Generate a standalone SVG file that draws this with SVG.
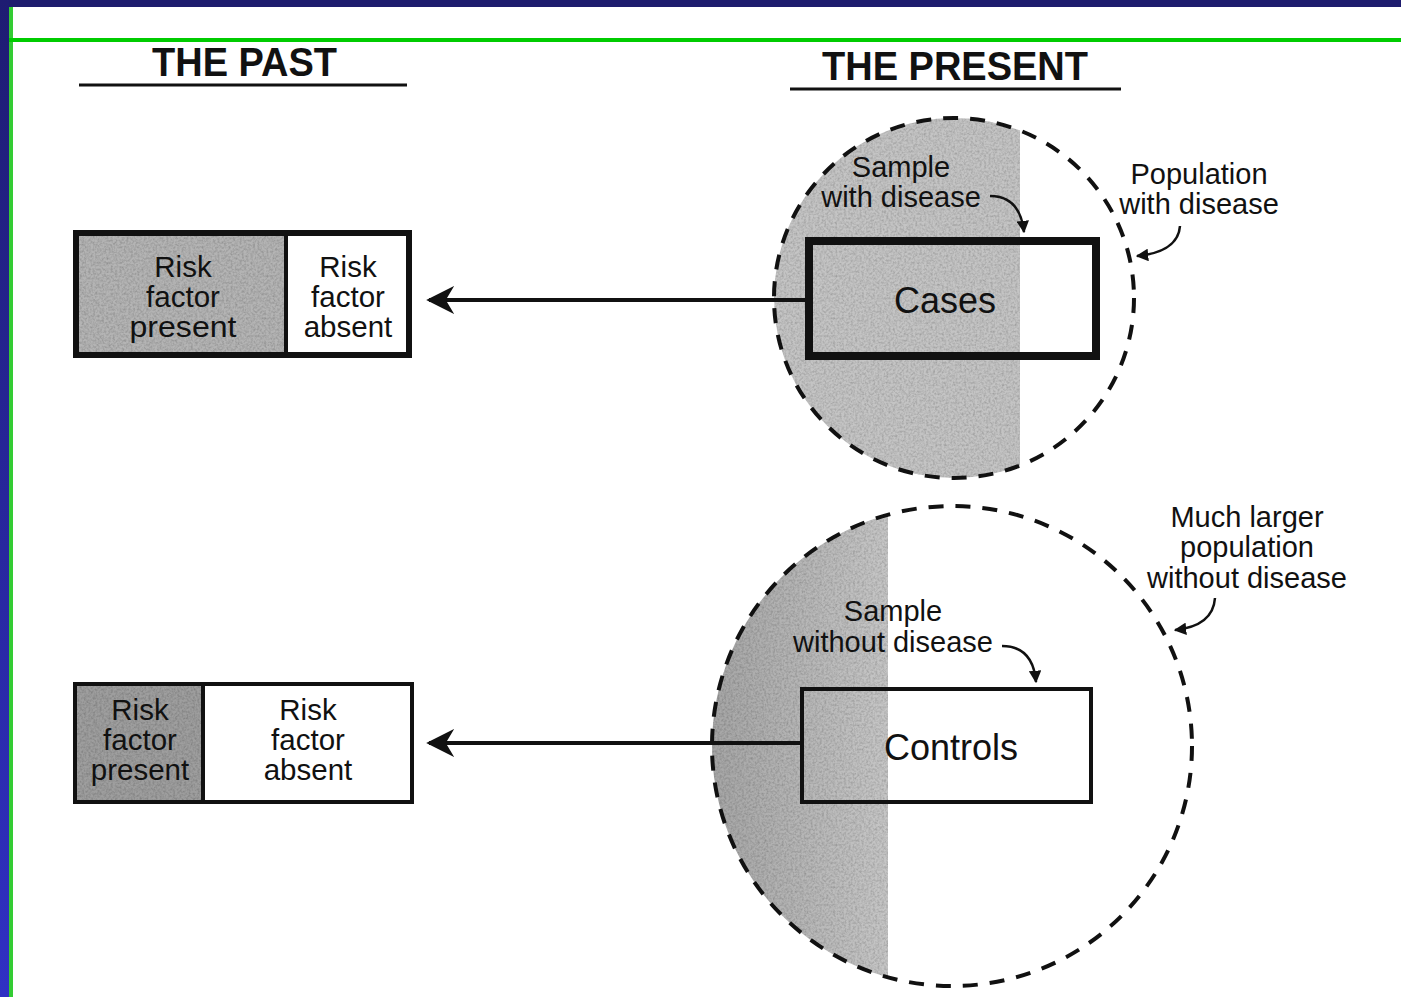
<svg xmlns="http://www.w3.org/2000/svg" width="1401" height="997" viewBox="0 0 1401 997">
<defs>
<style>
.t{font-family:"Liberation Sans",Arial,sans-serif;fill:#111;text-anchor:middle}
.h{font-weight:bold;font-size:40px}
.r{font-size:29.5px}
.s{font-size:29px}
.big{font-size:36px}
.dash{fill:none;stroke:#111;stroke-width:4;stroke-dasharray:15 12}
.box{fill:none;stroke:#111}
.conn{fill:none;stroke:#111;stroke-width:4}
.curve{fill:none;stroke:#111;stroke-width:2.5}
</style>
<linearGradient id="leftbar" x1="0" y1="0" x2="0" y2="1">
<stop offset="0" stop-color="#1e1c72"/>
<stop offset="1" stop-color="#3030c4"/>
</linearGradient>
<linearGradient id="lowgray" x1="0" y1="0" x2="1" y2="0">
<stop offset="0" stop-color="#a4a4a4"/>
<stop offset="1" stop-color="#c6c6c6"/>
</linearGradient>
<filter id="grain" x="0" y="0" width="100%" height="100%">
<feTurbulence type="fractalNoise" baseFrequency="0.45" numOctaves="2" seed="4" result="n"/>
<feColorMatrix in="n" type="matrix" values="0 0 0 0 0  0 0 0 0 0  0 0 0 0 0  0.7 0 0 0 -0.25" result="a"/>
<feComposite in="a" in2="SourceGraphic" operator="in" result="b"/>
<feMerge><feMergeNode in="SourceGraphic"/><feMergeNode in="b"/></feMerge>
</filter>
<clipPath id="c1"><circle cx="954" cy="298" r="180"/></clipPath>
<clipPath id="c2"><circle cx="952" cy="746" r="240"/></clipPath>
<marker id="ah" viewBox="0 0 10 10" refX="9" refY="5" markerWidth="7" markerHeight="7" markerUnits="strokeWidth" orient="auto">
<path d="M10,5 L0,0 L3,5 L0,10 Z" fill="#111"/>
</marker>
<marker id="sh" viewBox="0 0 10 10" refX="9" refY="5" markerWidth="5" markerHeight="5" markerUnits="strokeWidth" orient="auto">
<path d="M0,0 L10,5 L0,10 Z" fill="#111"/>
</marker>
</defs>

<rect width="1401" height="997" fill="#ffffff"/>
<g id="frame">
<rect x="0" y="0" width="1401" height="7" fill="#1e1c6e"/>
<rect x="0" y="0" width="9" height="997" fill="url(#leftbar)"/>
<rect x="9" y="7" width="4" height="990" fill="#33cc33"/>
<rect x="9" y="38" width="1392" height="4" fill="#00cc00"/>
</g>

<g id="title-past">
<text class="t h" x="244.5" y="76" textLength="185" lengthAdjust="spacingAndGlyphs">THE PAST</text>
<line x1="79" y1="85" x2="407" y2="85" stroke="#111" stroke-width="3"/>
</g>
<g id="title-present">
<text class="t h" x="955" y="80" textLength="266" lengthAdjust="spacingAndGlyphs">THE PRESENT</text>
<line x1="790" y1="89" x2="1121" y2="89" stroke="#111" stroke-width="3"/>
</g>

<g id="population-with-disease">
<rect x="770" y="110" width="250" height="380" fill="#c4c4c4" clip-path="url(#c1)" filter="url(#grain)"/>
<circle class="dash" cx="954" cy="298" r="180"/>
</g>

<g id="population-without-disease">
<rect x="705" y="500" width="183" height="490" fill="url(#lowgray)" clip-path="url(#c2)" filter="url(#grain)"/>
<circle class="dash" cx="952" cy="746" r="240"/>
</g>

<g id="cases">
<rect class="box" x="809" y="241" width="287" height="115" stroke-width="8"/>
<text class="t big" x="945" y="313">Cases</text>
</g>

<g id="controls">
<rect class="box" x="802" y="689" width="289" height="113" stroke-width="4"/>
<text class="t big" x="951" y="760">Controls</text>
</g>

<g id="past-cases">
<rect x="76" y="233" width="210" height="122" fill="#b4b4b4" filter="url(#grain)"/>
<rect x="286" y="233" width="123" height="122" fill="#ffffff"/>
<rect class="box" x="76" y="233" width="333" height="122" stroke-width="6"/>
<line x1="286" y1="233" x2="286" y2="355" stroke="#111" stroke-width="4"/>
<text class="t r" x="183" y="277">Risk</text>
<text class="t r" x="183" y="307">factor</text>
<text class="t r" x="183" y="337" textLength="107" lengthAdjust="spacingAndGlyphs">present</text>
<text class="t r" x="348" y="277">Risk</text>
<text class="t r" x="348" y="307">factor</text>
<text class="t r" x="348" y="337">absent</text>
</g>

<g id="past-controls">
<rect x="75" y="684" width="128" height="118" fill="#9e9e9e" filter="url(#grain)"/>
<rect class="box" x="75" y="684" width="337" height="118" stroke-width="4"/>
<line x1="203" y1="684" x2="203" y2="802" stroke="#111" stroke-width="4"/>
<text class="t r" x="140" y="720">Risk</text>
<text class="t r" x="140" y="750">factor</text>
<text class="t r" x="140" y="780">present</text>
<text class="t r" x="308" y="720">Risk</text>
<text class="t r" x="308" y="750">factor</text>
<text class="t r" x="308" y="780">absent</text>
</g>

<g id="labels">
<text class="t s" x="901" y="177">Sample</text>
<text class="t s" x="901" y="207">with disease</text>
<text class="t s" x="1199" y="184">Population</text>
<text class="t s" x="1199" y="214">with disease</text>
<text class="t s" x="893" y="621">Sample</text>
<text class="t s" x="893" y="652">without disease</text>
<text class="t s" x="1247" y="527">Much larger</text>
<text class="t s" x="1247" y="557">population</text>
<text class="t s" x="1247" y="588">without disease</text>
</g>

<g id="connectors">
<line class="conn" x1="806" y1="300" x2="429" y2="300" marker-end="url(#ah)"/>
<line class="conn" x1="800" y1="743" x2="429" y2="743" marker-end="url(#ah)"/>
<path class="curve" d="M990 196 Q1020 196 1024 232" marker-end="url(#sh)"/>
<path class="curve" d="M1180 226 Q1178 252 1137 256" marker-end="url(#sh)"/>
<path class="curve" d="M1002 646 Q1033 646 1036 682" marker-end="url(#sh)"/>
<path class="curve" d="M1215 598 Q1213 626 1175 630" marker-end="url(#sh)"/>
</g>
</svg>
